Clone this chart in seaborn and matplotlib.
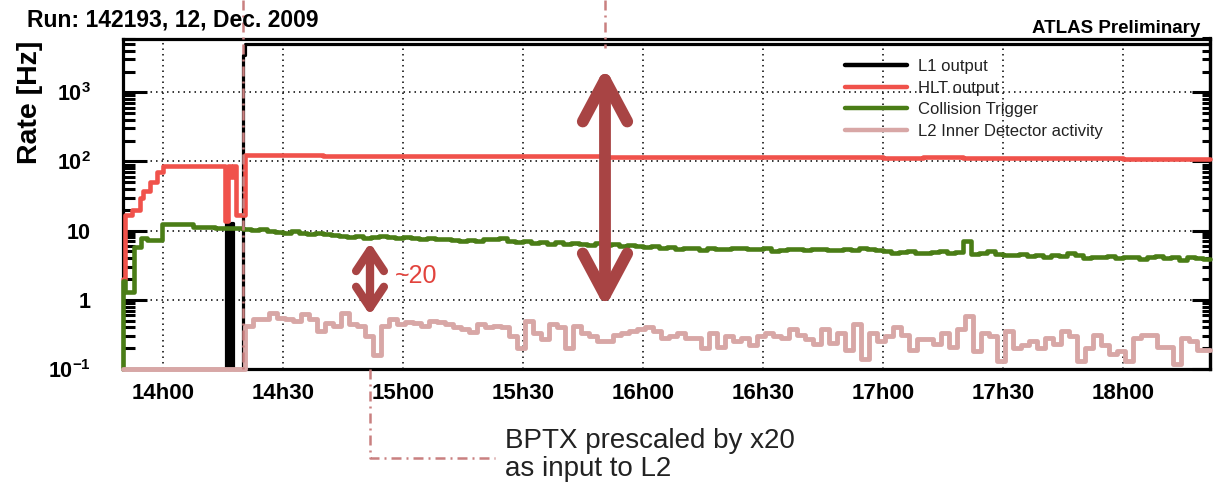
import numpy as np
import pandas as pd
import matplotlib
matplotlib.use("Agg")
import matplotlib.pyplot as plt
import matplotlib.transforms as mtransforms
from matplotlib.lines import Line2D
from matplotlib.patches import FancyArrowPatch
from matplotlib.ticker import FixedLocator, FixedFormatter, LogLocator, NullFormatter
import seaborn as sns

# ---------------------------------------------------------------- data
# time axis: minutes after 14h00
T_START, T_END = -10.0, 261.75

tick_minutes = [0, 30, 60, 90, 120, 150, 180, 210, 240]
tick_labels = ["14h00", "14h30", "15h00", "15h30", "16h00",
               "16h30", "17h00", "17h30", "18h00"]

ytick_values = [0.1, 1, 10, 100, 1000]
ytick_labels = [r"$\mathbf{10^{-1}}$", r"$\mathbf{1}$", r"$\mathbf{10}$",
                r"$\mathbf{10^{2}}$", r"$\mathbf{10^{3}}$"]

# L1 output (bin edges in minutes, rates in Hz)
l1_edges = [-10, 15.8, 16.3, 16.9, 17.5, 20.0, 20.6, 261.75]
l1_rate = [0.1, 13, 0.1, 13, 0.1, 3500, 5000]

# HLT output: ramp before the beams, then 10-minute bins
hlt_edges_early = [-10, -9.6, -7.7, -5.7, -5.0, -3.2, -1.5, 0, 15.5, 16.3,
                   17.0, 17.5, 18.3, 20.5]
hlt_rate_early = [2.0, 17, 20, 30, 37, 50, 70, 85, 14, 85, 60, 85, 17]
hlt_rate = [124, 123, 122, 122, 121, 120, 120, 119, 119, 118, 118, 117, 117,
            116, 116, 115, 114, 115, 113, 112, 112, 111, 110, 109, 108]

# Collision trigger: start-up steps, then 2-minute bins from 14h20
coll_edges_early = [-10, -10, -9.5, -7.3, -5.5, -4, -0.3, 7.5, 13, 20]
coll_rate_early = [0.1, 1.9, 1.3, 5.8, 7.8, 7.3, 12.5, 11.3, 10.8]
coll_rate = [10.5, 10.2, 10.4, 10.0,
             9.6, 9.4, 9.8, 9.2, 9.0, 9.3, 8.9, 8.7,
             8.5, 8.2, 8.4, 7.9, 8.1, 8.3, 8.0, 7.8, 8.2, 7.9, 7.7, 7.9,
             7.5, 7.6, 7.3, 7.2, 7.4, 7.1, 7.5,
             7.6, 7.8, 7.2, 6.9, 7.0, 6.6, 6.8, 6.5, 6.9, 6.4,
             6.6, 6.5, 6.2, 6.6, 6.3, 6.5, 6.1, 6.2, 6.0,
             5.9, 6.1, 5.7, 5.8, 5.5, 5.7, 5.6, 5.3, 5.6, 5.4, 5.5, 5.7,
             5.6, 5.4, 5.5, 5.6, 5.1, 5.3, 5.5, 5.4, 5.2, 5.4, 5.5, 5.3, 5.2, 5.5,
             5.3, 5.6, 5.4, 5.2, 5.0, 4.8, 4.9, 5.0, 4.7, 4.8, 4.9, 5.0, 4.8, 4.9,
             7.0,
             4.6, 4.8, 5.1, 4.6, 4.5, 4.4, 4.6,
             4.3, 4.5, 4.2, 4.4, 4.3, 4.8, 4.5, 4.0,
             4.2, 4.1, 4.3, 4.0, 4.2, 4.1, 3.9, 4.1, 4.3, 4.0, 4.1, 3.8, 4.2,
             4.0, 3.9]

# L2 inner detector activity: 2-minute bins from 14h20
l2_edges_early = [-10, 20.5]
l2_rate_early = [0.1]
l2_rate = [0.42, 0.53, 0.53, 0.65, 0.55, 0.53, 0.50, 0.63, 0.52, 0.36, 0.47,
           0.42, 0.65, 0.45, 0.42, 0.30, 0.16, 0.42, 0.53, 0.45, 0.48, 0.47,
           0.42, 0.50, 0.48, 0.45, 0.40, 0.38, 0.34, 0.45, 0.40,
           0.42, 0.40, 0.30, 0.20, 0.50, 0.33, 0.27, 0.45, 0.40, 0.20, 0.42,
           0.33, 0.30, 0.25, 0.25, 0.31, 0.33, 0.36, 0.38, 0.40, 0.36, 0.28,
           0.30, 0.33, 0.28, 0.28, 0.20, 0.33, 0.21, 0.30,
           0.25, 0.28, 0.22, 0.30, 0.33, 0.30, 0.28, 0.38, 0.31, 0.27, 0.23,
           0.38, 0.24, 0.33, 0.19, 0.45, 0.14, 0.33, 0.25, 0.30, 0.40, 0.31,
           0.19, 0.27, 0.27, 0.23, 0.33, 0.21, 0.38, 0.59, 0.18, 0.33,
           0.30, 0.13, 0.36, 0.20, 0.22, 0.25, 0.20, 0.28, 0.23, 0.36, 0.30,
           0.13, 0.20, 0.31, 0.22, 0.165, 0.18, 0.13, 0.28, 0.31, 0.31, 0.21,
           0.21, 0.12, 0.28, 0.25, 0.19, 0.19]

series_names = ["L1 output", "HLT output", "Collision Trigger",
                "L2 Inner Detector activity"]
series_colors = ["#000000", "#f0524b", "#4a7d16", "#d8a7a6"]
series_widths = [2.3, 3.3, 3.3, 3.5]


# ---------------------------------------------------------------- helpers
def uniform_edges(start, width, n):
    return list(start + width * np.arange(n + 1))


def step_frame(name, edges, rates):
    x = np.clip(np.asarray(edges, float), T_START, T_END)
    y = np.append(np.asarray(rates, float), rates[-1])
    return pd.DataFrame({"series": name, "time": x, "rate": y})


hlt_edges = hlt_edges_early + [30 + 10 * i for i in range(len(hlt_rate) - 1)] + [T_END]
coll_edges = coll_edges_early + uniform_edges(20, 2, len(coll_rate))[1:]
l2_edges = l2_edges_early + uniform_edges(20.5, 2, len(l2_rate))[1:]

frames = [
    step_frame(series_names[0], l1_edges, l1_rate),
    step_frame(series_names[1], hlt_edges, hlt_rate_early + hlt_rate),
    step_frame(series_names[2], coll_edges, coll_rate_early + coll_rate),
    step_frame(series_names[3], l2_edges, l2_rate_early + l2_rate),
]
data = pd.concat(frames, ignore_index=True)

# ---------------------------------------------------------------- style
sns.set_theme(style="ticks")
plt.rcParams["font.family"] = ["Liberation Sans", "DejaVu Sans"]
plt.rcParams["mathtext.fontset"] = "custom"
plt.rcParams["mathtext.rm"] = "Liberation Sans"
plt.rcParams["mathtext.bf"] = "Liberation Sans:bold"
plt.rcParams["axes.axisbelow"] = "line"

W, H = 1215, 487
fig, ax = plt.subplots(figsize=(W / 100, H / 100), dpi=100)
fig.subplots_adjust(left=123 / W, right=1210 / W, top=1 - 38.5 / H,
                    bottom=1 - 369 / H)

for i, name in enumerate(series_names):
    sub = data[data["series"] == name]
    sns.lineplot(data=sub, x="time", y="rate", ax=ax, color=series_colors[i],
                 linewidth=series_widths[i], drawstyle="steps-post",
                 estimator=None, sort=False, legend=False,
                 zorder=3 + i, clip_on=False)

ax.set_yscale("log")
ax.set_xlim(T_START, T_END)
ax.set_ylim(0.1, 6000)

# frame
for sp in ax.spines.values():
    sp.set_visible(True)
    sp.set_linewidth(2.3)
    sp.set_color("black")
    sp.set_zorder(2.5)

# x axis
ax.set_xticks(tick_minutes)
ax.set_xticklabels(tick_labels, fontsize=16, fontweight="bold")
ax.tick_params(axis="x", which="both", bottom=True, top=False, length=0,
               pad=10, labelcolor="black")

# y axis: long inward ticks on the left, shorter ones on the right
ax.yaxis.set_major_locator(FixedLocator(ytick_values))
ax.yaxis.set_major_formatter(FixedFormatter(ytick_labels))
ax.yaxis.set_minor_locator(LogLocator(base=10, subs=np.arange(2, 10), numticks=20))
ax.yaxis.set_minor_formatter(NullFormatter())
ax.tick_params(axis="y", which="major", left=True, right=False,
               direction="in", length=17, width=2.2, labelsize=15.5, pad=23,
               color="black", labelcolor="black")
ax.tick_params(axis="y", which="minor", left=True, right=False,
               direction="in", length=8.5, width=2.2, color="black")

ax.grid(visible=True, which="major", axis="both", color="black",
        linestyle=(0, (1, 2.6)), linewidth=1.1)
ax.grid(visible=False, which="minor")

ax.set_xlabel("")
ax.set_ylabel("Rate [Hz]", fontsize=20.5, fontweight="bold", loc="top",
              color="black")
ax.yaxis.set_label_coords(-0.0736, 0.995)

right = ax.secondary_yaxis("right")
right.yaxis.set_major_locator(FixedLocator(ytick_values))
right.yaxis.set_minor_locator(LogLocator(base=10, subs=np.arange(2, 10), numticks=20))
right.yaxis.set_major_formatter(NullFormatter())
right.yaxis.set_minor_formatter(NullFormatter())
right.tick_params(axis="y", which="major", direction="in", length=13,
                  width=2.2, color="black", right=True)
right.tick_params(axis="y", which="minor", direction="in", length=6,
                  width=2.2, color="black", right=True)
right.spines["right"].set_linewidth(2.3)
right.spines["right"].set_color("black")

# legend
handles = [Line2D([], [], color=c, linewidth=3.2) for c in series_colors]
leg = ax.legend(handles, series_names, loc="upper left",
                bbox_to_anchor=(845 / W, 1 - 59 / H),
                bbox_transform=fig.transFigure, frameon=False, fontsize=12,
                handlelength=3.7, handletextpad=0.65, labelspacing=0.4,
                borderpad=0, borderaxespad=0)
for txt in leg.get_texts():
    txt.set_color("#222222")
leg.set_zorder(10)

# titles
fig.text(27 / W, 1 - 27 / H, "Run: 142193, 12, Dec. 2009", fontsize=16.5,
         fontweight="bold", ha="left", va="baseline", color="black")
fig.text(1200 / W, 1 - 33 / H, "ATLAS Preliminary", fontsize=13.5,
         fontweight="bold", ha="right", va="baseline", color="black")

# ---------------------------------------------------------------- annotations
ann_color = "#c98080"
dashdot = (0, (4, 2, 0.8, 2))
blend = mtransforms.blended_transform_factory(ax.transData, fig.transFigure)
y_axis_bottom = 1 - 369 / H

# beam start marker and the level marker above the plot
for xs, ys in [([20, 20], [1.0, y_axis_bottom]),
               ([110.5, 110.5], [1.0, 1 - 48 / H])]:
    ax.add_line(Line2D(xs, ys, transform=blend, color=ann_color, linewidth=1.8,
                       linestyle=dashdot, clip_on=False, zorder=8))

# pointer from the dip down to the note
ax.add_line(Line2D([51.75, 51.75, 83], [y_axis_bottom, 1 - 458 / H, 1 - 458 / H],
                   transform=blend, color=ann_color, linewidth=1.8,
                   linestyle=dashdot, clip_on=False, zorder=8))

fig.text(505 / W, 1 - 428 / H, "BPTX prescaled by x20\nas input to L2",
         fontsize=20, color="#222222", ha="left", va="top", linespacing=1.12)

arrow_color = "#a84444"
big = FancyArrowPatch((110.5, 0.77), (110.5, 2300), arrowstyle="<->",
                      mutation_scale=1, shrinkA=0, shrinkB=0,
                      color=arrow_color, linewidth=8.5, capstyle="round",
                      joinstyle="round", zorder=9, clip_on=False)
big.set_arrowstyle("<->", head_length=30, head_width=16)
ax.add_patch(big)

small = FancyArrowPatch((51.75, 0.6), (51.75, 6.7), arrowstyle="<->",
                        mutation_scale=1, shrinkA=0, shrinkB=0,
                        color=arrow_color, linewidth=6, capstyle="round",
                        joinstyle="round", zorder=9, clip_on=False)
small.set_arrowstyle("<->", head_length=15, head_width=10)
ax.add_patch(small)

ax.text(58, 1.76, "~20", fontsize=18, color="#e2433d", ha="left",
        va="baseline", zorder=9)

fig.savefig("out.png", dpi=100)
